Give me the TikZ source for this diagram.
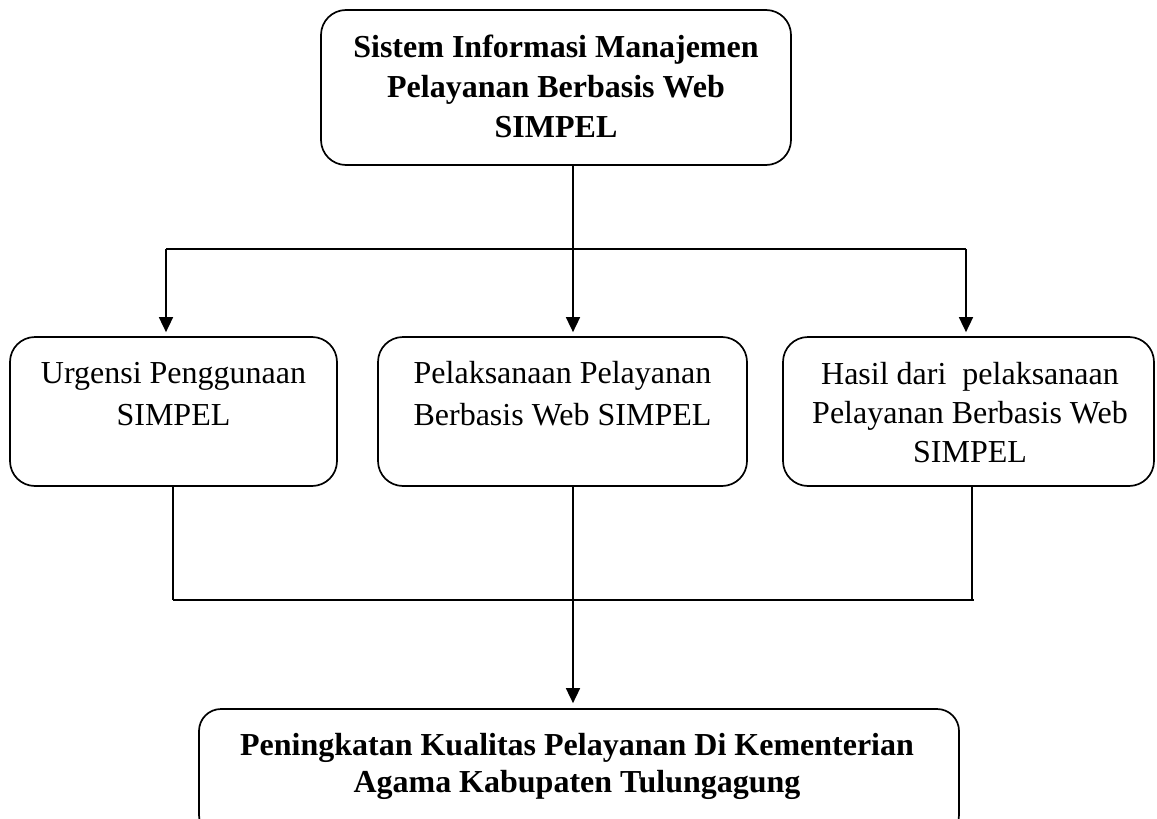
\documentclass[tikz,border=0pt]{standalone}
\usepackage{fontspec}
\setmainfont{Liberation Serif}
\usetikzlibrary{arrows.meta}
\begin{document}
\begin{tikzpicture}[x=1pt,y=-1pt,
  boxshape/.style={draw, line width=1.7pt, rounded corners=25pt, inner sep=0pt},
  txt/.style={align=center, inner sep=0pt, anchor=base},
  conn/.style={line width=1.6pt},
  arr/.style={line width=1.6pt, -{Triangle[length=15pt,width=14pt]}, shorten >=4pt}]
\useasboundingbox (0,0) rectangle (1157,819);
% boxes
\node[boxshape, minimum width=470pt, minimum height=155pt] (top) at (556,87.5) {};
\node[boxshape, minimum width=327pt, minimum height=149pt] (left) at (173.5,411.5) {};
\node[boxshape, minimum width=369pt, minimum height=149pt] (mid) at (562.5,411.5) {};
\node[boxshape, minimum width=371pt, minimum height=149pt] (right) at (968.5,411.5) {};
\node[boxshape, rounded corners=22pt, minimum width=760pt, minimum height=128pt] (bottom) at (579,773) {};
% texts (anchor base = baseline of the last line)
\node[txt, font=\fontsize{32}{40}\selectfont\bfseries] (toptxt) at (556,137)
  {Sistem Informasi Manajemen\\Pelayanan Berbasis Web\\SIMPEL};
\node[txt, font=\fontsize{32}{42}\selectfont] (lefttxt) at (173.5,425)
  {Urgensi Penggunaan\\SIMPEL};
\node[txt, font=\fontsize{32}{42}\selectfont] (midtxt) at (562.5,425)
  {Pelaksanaan Pelayanan\\Berbasis Web SIMPEL};
\node[txt, font=\fontsize{32}{39}\selectfont] (righttxt) at (970,462)
  {Hasil dari~ pelaksanaan\\Pelayanan Berbasis Web\\SIMPEL};
\node[txt, font=\fontsize{32}{37}\selectfont\bfseries] (bottomtxt) at (577,792)
  {Peningkatan Kualitas Pelayanan Di Kementerian\\Agama Kabupaten Tulungagung};
% connector coordinates
\coordinate (hL) at (166,249);
\coordinate (hM) at (573,249);
\coordinate (hR) at (966,249);
\coordinate (bL) at (173,600);
\coordinate (bM) at (573,600);
\coordinate (bR) at (972,600);
\coordinate (bE) at (974,600);
% top connectors
\draw[conn] (top.south -| hM) -- (hM);
\draw[conn] (hL) -- (hR);
\draw[arr] (hL) -- (left.north -| hL);
\draw[arr] (hM) -- (mid.north -| hM);
\draw[arr] (hR) -- (right.north -| hR);
% bottom connectors
\draw[conn] (left.south -| bL) -- (bL);
\draw[conn] (right.south -| bR) -- (bR);
\draw[conn] (bL) -- (bE);
\draw[arr, shorten >=5pt] (mid.south -| bM) -- (bottom.north -| bM);
\end{tikzpicture}
\end{document}
